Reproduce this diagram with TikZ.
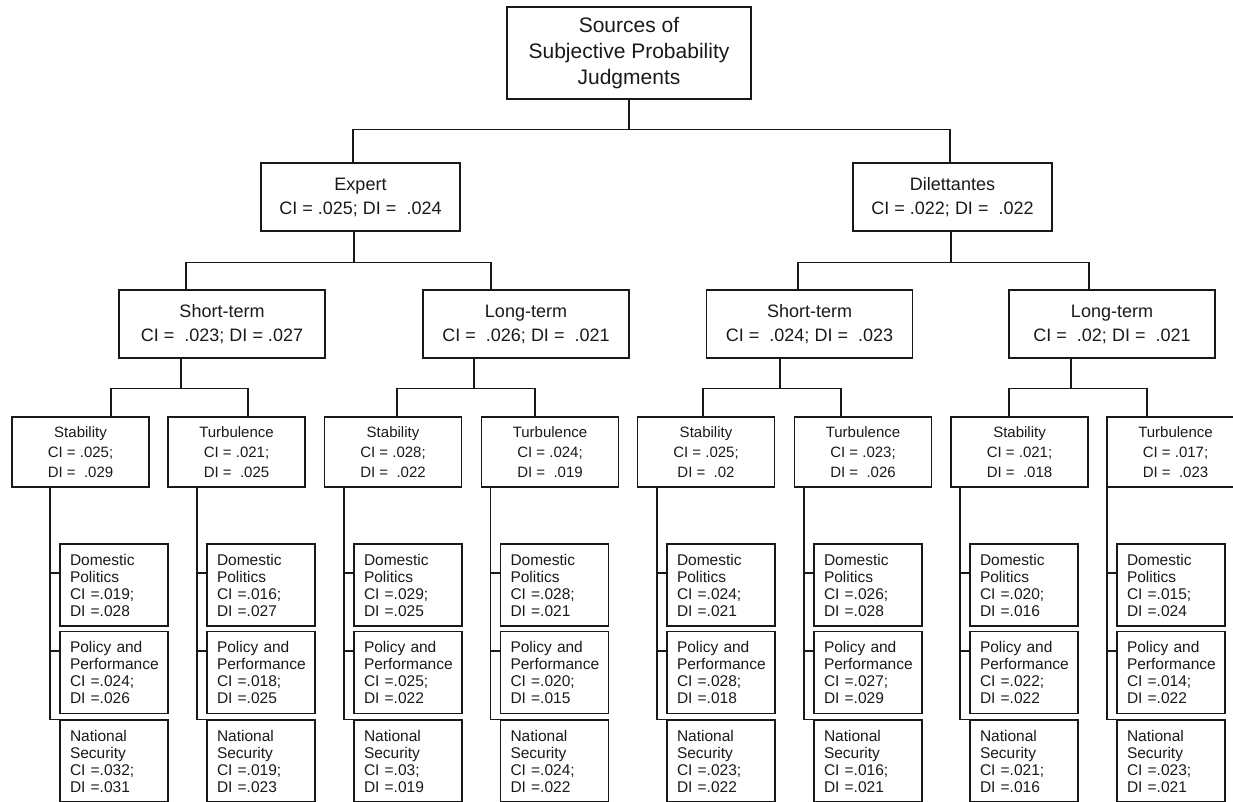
\documentclass[tikz,border=0pt]{standalone}
\usepackage{fontspec}
\setmainfont{Liberation Sans}
\usepackage{tikz}

\tikzset{
  rootbox/.style={draw, align=center, minimum width=244pt, minimum height=92pt, inner sep=0pt, font=\fontsize{21}{26}\selectfont},
  groupbox/.style={draw, align=center, minimum width=199pt, minimum height=68pt, inner sep=0pt, font=\fontsize{18}{24}\selectfont},
  termbox/.style={groupbox, minimum width=206pt},
  condbox/.style={draw, align=center, minimum width=137pt, minimum height=70pt, inner sep=0pt, font=\fontsize{15}{20}\selectfont},
  issuebox/.style={draw, align=left, text width=88pt, inner xsep=10pt, inner ysep=0pt, minimum height=82pt, font=\fontsize{15.5}{17}\selectfont}
}

\begin{document}
\begin{tikzpicture}[x=1pt, y=-1pt, line width=1.3pt, black!90]
                \useasboundingbox (0,0) rectangle (1233,801);
                \node [rootbox] (root) at (629,53) {Sources of\\Subjective Probability\\Judgments};
                \node [groupbox] (expert) at (360.5,197) {Expert\\CI = .025; DI = \ .024};
                \node [groupbox] (dilett) at (952.5,197) {Dilettantes\\CI = .022; DI = \ .022};
                \node [termbox] (stexp) at (222,324) {Short-term\\CI = \ .023; DI = .027};
                \node [termbox] (ltexp) at (526,324) {Long-term\\CI = \ .026; DI = \ .021};
                \node [termbox] (stdil) at (809.5,324) {Short-term\\CI = \ .024; DI = \ .023};
                \node [termbox] (ltdil) at (1112,324) {Long-term\\CI = \ .02; DI = \ .021};
                \draw (root.south) -- ++(0,30) -| ([xshift=-7.5pt]expert.north);
                \draw (root.south) -- ++(0,30) -| ([xshift=-2.5pt]dilett.north);
                \draw ([xshift=-6.5pt]expert.south) -- ++(0,31) -| ([xshift=-36pt]stexp.north);
                \draw ([xshift=-6.5pt]expert.south) -- ++(0,31) -| ([xshift=-35pt]ltexp.north);
                \draw ([xshift=-1.5pt]dilett.south) -- ++(0,31) -| ([xshift=-11.5pt]stdil.north);
                \draw ([xshift=-1.5pt]dilett.south) -- ++(0,31) -| ([xshift=-23pt]ltdil.north);
                \node [condbox] (cat1) at (80.5,452) {Stability\\CI = .025;\\DI = \ .029};
                \node [condbox] (cat2) at (236.5,452) {Turbulence\\CI = .021;\\DI = \ .025};
                \node [condbox] (cat3) at (393,452) {Stability\\CI = .028;\\DI = \ .022};
                \node [condbox] (cat4) at (550,452) {Turbulence\\CI = .024;\\DI = \ .019};
                \node [condbox] (cat5) at (706,452) {Stability\\CI = .025;\\DI = \ .02};
                \node [condbox] (cat6) at (863,452) {Turbulence\\CI = .023;\\DI = \ .026};
                \node [condbox] (cat7) at (1019.5,452) {Stability\\CI = .021;\\DI = \ .018};
                \node [condbox] (cat8) at (1175.5,452) {Turbulence\\CI = .017;\\DI = \ .023};
                \draw ([xshift=-41pt]stexp.south) -- ++(0,30) -| ([xshift=30.5pt]cat1.north);
                \draw ([xshift=-41pt]stexp.south) -- ++(0,30) -| ([xshift=11.5pt]cat2.north);
                \draw ([xshift=-52pt]ltexp.south) -- ++(0,30) -| ([xshift=4pt]cat3.north);
                \draw ([xshift=-52pt]ltexp.south) -- ++(0,30) -| ([xshift=-15pt]cat4.north);
                \draw ([xshift=-29.5pt]stdil.south) -- ++(0,30) -| ([xshift=-3pt]cat5.north);
                \draw ([xshift=-29.5pt]stdil.south) -- ++(0,30) -| ([xshift=-22pt]cat6.north);
                \draw ([xshift=-41pt]ltdil.south) -- ++(0,30) -| ([xshift=-10.5pt]cat7.north);
                \draw ([xshift=-41pt]ltdil.south) -- ++(0,30) -| ([xshift=-28.5pt]cat8.north);
                \node [issuebox] (dom1) at (114,585) {Domestic\\Politics\\CI =.019;\\DI =.028};
                \node [issuebox] (pol1) at (114,672.5) {Policy and\\Performance\\CI =.024;\\DI =.026};
                \node [issuebox] (nat1) at (114,761) {National\\Security\\CI =.032;\\DI =.031};
                \node [issuebox] (dom2) at (261,585) {Domestic\\Politics\\CI =.016;\\DI =.027};
                \node [issuebox] (pol2) at (261,672.5) {Policy and\\Performance\\CI =.018;\\DI =.025};
                \node [issuebox] (nat2) at (261,761) {National\\Security\\CI =.019;\\DI =.023};
                \node [issuebox] (dom3) at (408,585) {Domestic\\Politics\\CI =.029;\\DI =.025};
                \node [issuebox] (pol3) at (408,672.5) {Policy and\\Performance\\CI =.025;\\DI =.022};
                \node [issuebox] (nat3) at (408,761) {National\\Security\\CI =.03;\\DI =.019};
                \node [issuebox] (dom4) at (554.5,585) {Domestic\\Politics\\CI =.028;\\DI =.021};
                \node [issuebox] (pol4) at (554.5,672.5) {Policy and\\Performance\\CI =.020;\\DI =.015};
                \node [issuebox] (nat4) at (554.5,761) {National\\Security\\CI =.024;\\DI =.022};
                \node [issuebox] (dom5) at (721,585) {Domestic\\Politics\\CI =.024;\\DI =.021};
                \node [issuebox] (pol5) at (721,672.5) {Policy and\\Performance\\CI =.028;\\DI =.018};
                \node [issuebox] (nat5) at (721,761) {National\\Security\\CI =.023;\\DI =.022};
                \node [issuebox] (dom6) at (868,585) {Domestic\\Politics\\CI =.026;\\DI =.028};
                \node [issuebox] (pol6) at (868,672.5) {Policy and\\Performance\\CI =.027;\\DI =.029};
                \node [issuebox] (nat6) at (868,761) {National\\Security\\CI =.016;\\DI =.021};
                \node [issuebox] (dom7) at (1024,585) {Domestic\\Politics\\CI =.020;\\DI =.016};
                \node [issuebox] (pol7) at (1024,672.5) {Policy and\\Performance\\CI =.022;\\DI =.022};
                \node [issuebox] (nat7) at (1024,761) {National\\Security\\CI =.021;\\DI =.016};
                \node [issuebox] (dom8) at (1171,585) {Domestic\\Politics\\CI =.015;\\DI =.024};
                \node [issuebox] (pol8) at (1171,672.5) {Policy and\\Performance\\CI =.014;\\DI =.022};
                \node [issuebox] (nat8) at (1171,761) {National\\Security\\CI =.023;\\DI =.021};
                \draw (nat1.north west) -- ++(-9.5,0) |- (cat1.south);
                \draw ([yshift=12pt]dom1.west) -- ++(-9.5,0);
                \draw ([yshift=21.5pt]pol1.west) -- ++(-9.5,0);
                \draw (nat2.north west) -- ++(-9.5,0) |- (cat2.south);
                \draw ([yshift=12pt]dom2.west) -- ++(-9.5,0);
                \draw ([yshift=21.5pt]pol2.west) -- ++(-9.5,0);
                \draw (nat3.north west) -- ++(-9.5,0) |- (cat3.south);
                \draw ([yshift=12pt]dom3.west) -- ++(-9.5,0);
                \draw ([yshift=21.5pt]pol3.west) -- ++(-9.5,0);
                \draw (nat4.north west) -- ++(-9.5,0) |- (cat4.south);
                \draw ([yshift=12pt]dom4.west) -- ++(-9.5,0);
                \draw ([yshift=21.5pt]pol4.west) -- ++(-9.5,0);
                \draw (nat5.north west) -- ++(-9.5,0) |- (cat5.south);
                \draw ([yshift=12pt]dom5.west) -- ++(-9.5,0);
                \draw ([yshift=21.5pt]pol5.west) -- ++(-9.5,0);
                \draw (nat6.north west) -- ++(-9.5,0) |- (cat6.south);
                \draw ([yshift=12pt]dom6.west) -- ++(-9.5,0);
                \draw ([yshift=21.5pt]pol6.west) -- ++(-9.5,0);
                \draw (nat7.north west) -- ++(-9.5,0) |- (cat7.south);
                \draw ([yshift=12pt]dom7.west) -- ++(-9.5,0);
                \draw ([yshift=21.5pt]pol7.west) -- ++(-9.5,0);
                \draw (nat8.north west) -- ++(-9.5,0) |- (cat8.south);
                \draw ([yshift=12pt]dom8.west) -- ++(-9.5,0);
                \draw ([yshift=21.5pt]pol8.west) -- ++(-9.5,0);
\end{tikzpicture}
\end{document}
